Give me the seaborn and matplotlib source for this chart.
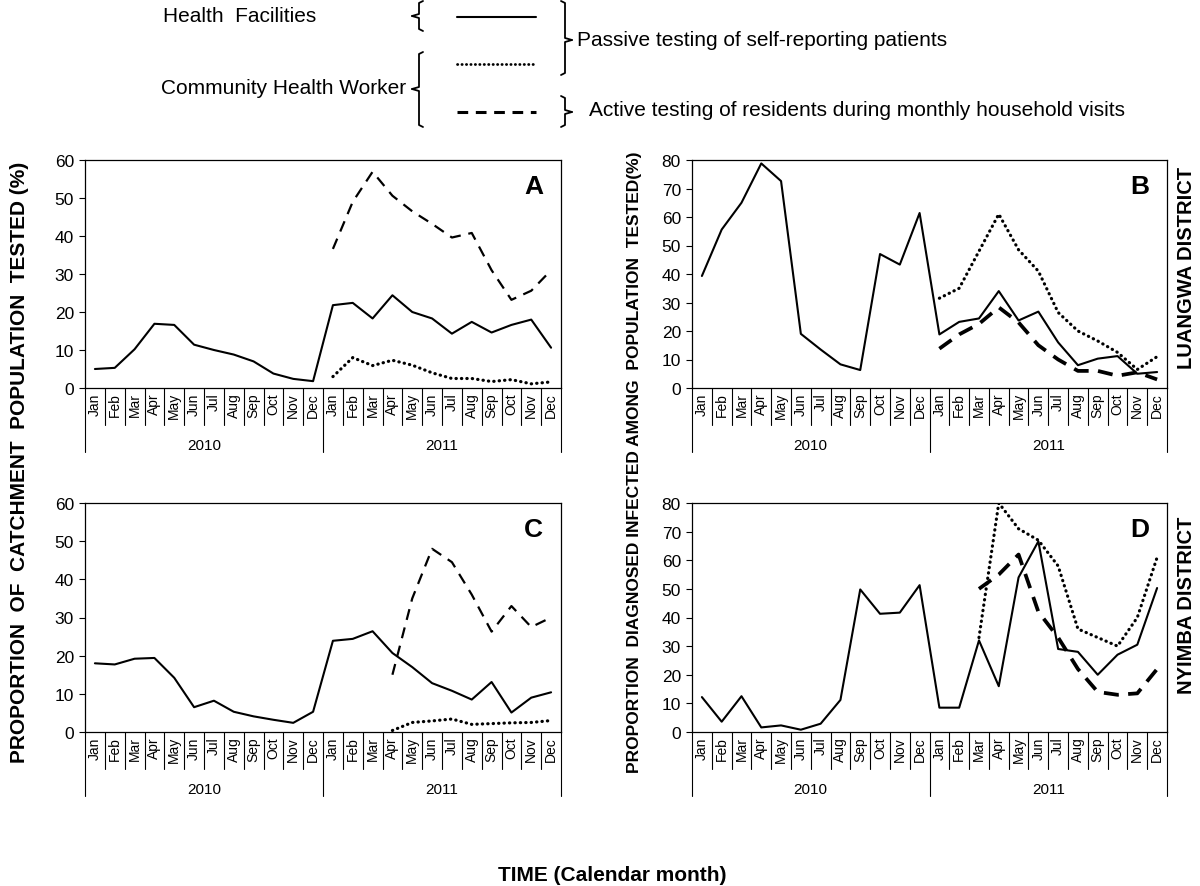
import numpy as np
import pandas as pd
import seaborn as sns
import matplotlib.pyplot as plt
from matplotlib.lines import Line2D

nan = np.nan

months = ['Jan', 'Feb', 'Mar', 'Apr', 'May', 'Jun',
          'Jul', 'Aug', 'Sep', 'Oct', 'Nov', 'Dec'] * 2
years = ['2010', '2011']

# panel A - Luangwa, proportion tested
a_hf = [5.0, 5.3, 10.2, 16.9, 16.6, 11.4, 10.0, 8.8, 7.0, 3.8, 2.4, 1.8,
        21.8, 22.4, 18.3, 24.4, 20.0, 18.3, 14.3, 17.4, 14.6, 16.6, 18.0, 10.6]
a_passive = [nan] * 12 + [3.0, 8.0, 5.9, 7.3, 6.0, 4.0, 2.5, 2.5, 1.7, 2.2, 1.1, 1.6]
a_active = [nan] * 12 + [36.6, 49.0, 56.9, 50.6, 46.5, 43.2, 39.6, 40.8, 31.0, 23.2, 25.6, 31.0]

# panel B - Luangwa, proportion infected
b_hf = [39.3, 55.6, 65.0, 78.8, 72.6, 19.0, 13.5, 8.3, 6.3, 47.0, 43.3, 61.4,
        18.8, 23.2, 24.4, 34.0, 23.7, 26.8, 16.0, 8.0, 10.3, 11.2, 5.0, 5.6]
b_passive = [nan] * 12 + [31.5, 35.0, 48.0, 61.0, 48.5, 41.0, 26.5, 20.0, 16.5, 12.5, 6.5, 11.0]
b_active = [nan] * 12 + [13.8, 18.8, 22.5, 28.3, 23.0, 15.0, 10.0, 6.0, 6.0, 4.3, 5.5, 3.0]

# panel C - Nyimba, proportion tested
c_hf = [18.0, 17.7, 19.2, 19.4, 14.2, 6.5, 8.2, 5.3, 4.1, 3.2, 2.4, 5.3,
        23.9, 24.4, 26.4, 20.7, 17.0, 12.8, 10.8, 8.5, 13.1, 5.1, 9.0, 10.4]
c_passive = [nan] * 15 + [0.4, 2.5, 2.9, 3.4, 2.0, 2.2, 2.4, 2.5, 3.0]
c_active = [nan] * 15 + [15.0, 35.0, 48.0, 44.5, 36.0, 26.3, 33.0, 27.5, 30.0]

# panel D - Nyimba, proportion infected
d_hf = [12.2, 3.6, 12.5, 1.6, 2.3, 0.8, 2.9, 11.2, 49.8, 41.3, 41.7, 51.3,
        8.5, 8.5, 32.0, 16.0, 54.0, 66.6, 29.0, 28.0, 20.0, 27.0, 30.5, 50.3]
d_passive = [nan] * 14 + [33.0, 80.0, 71.0, 67.0, 58.0, 36.0, 33.0, 30.0, 40.0, 61.0]
d_active = [nan] * 14 + [50.0, 55.0, 62.0, 42.0, 33.0, 22.0, 14.0, 13.0, 13.5, 22.0]

sns.set_theme(style='white')
plt.rcParams['font.family'] = ['Liberation Sans', 'DejaVu Sans']
for key in ['text.color', 'axes.labelcolor', 'xtick.color', 'ytick.color', 'axes.edgecolor']:
    plt.rcParams[key] = 'black'

W, H = 1200, 887
fig = plt.figure(figsize=(12, 8.87), dpi=100)


def px(x, y):
    return x / W, 1 - y / H


def make_panel(rect, hf, passive, active, ymax, letter, thick_dash):
    ax = fig.add_axes(rect)
    df = pd.DataFrame({'pos': np.arange(24), 'hf': hf,
                       'passive': passive, 'active': active})
    sns.lineplot(data=df, x='pos', y='hf', ax=ax, color='black', lw=1.5)
    sns.lineplot(data=df, x='pos', y='passive', ax=ax, color='black', lw=2.3,
                 linestyle=(0, (0.1, 1.6)), dash_capstyle='round')
    if thick_dash:
        sns.lineplot(data=df, x='pos', y='active', ax=ax, color='black', lw=2.7,
                     linestyle=(0, (4, 2.5)))
    else:
        sns.lineplot(data=df, x='pos', y='active', ax=ax, color='black', lw=1.6,
                     linestyle=(0, (5, 3.5)))
    ax.set_xlim(-0.5, 23.5)
    ax.set_ylim(0, ymax)
    ax.set_yticks(range(0, ymax + 1, 10))
    ax.set_xticks(range(24))
    ax.set_xticklabels(months, rotation=90, fontsize=10)
    ax.tick_params(axis='x', length=0, pad=3)
    ax.tick_params(axis='y', length=4, width=0.8, labelsize=12.5, direction='out',
                   left=True, pad=4)
    ax.set_xlabel('')
    ax.set_ylabel('')
    for s in ax.spines.values():
        s.set_color('black')
        s.set_linewidth(0.9)
    hpx = rect[3] * H
    for i in range(25):
        depth = 64 if i in (0, 12, 24) else 37
        ax.plot([i - 0.5, i - 0.5], [0, -depth / hpx], color='black', lw=0.8,
                transform=ax.get_xaxis_transform(), clip_on=False)
    for k, yr in enumerate(years):
        ax.text(5.5 + 12 * k, -57 / hpx, yr, transform=ax.get_xaxis_transform(),
                ha='center', va='center', fontsize=11)
    ax.text(0.942, 0.885, letter, transform=ax.transAxes, ha='center', va='center',
            fontsize=19, fontweight='bold')
    return ax


make_panel([85 / W, 1 - 389 / H, 476 / W, 228 / H], a_hf, a_passive, a_active, 60, 'A', False)
make_panel([692 / W, 1 - 389 / H, 475 / W, 228 / H], b_hf, b_passive, b_active, 80, 'B', True)
make_panel([85 / W, 1 - 733 / H, 476 / W, 229 / H], c_hf, c_passive, c_active, 60, 'C', False)
make_panel([692 / W, 1 - 733 / H, 475 / W, 229 / H], d_hf, d_passive, d_active, 80, 'D', True)

# axis titles
fig.text(*px(20, 462), 'PROPORTION  OF  CATCHMENT  POPULATION  TESTED (%)', rotation=90,
         ha='center', va='center', fontsize=15, fontweight='bold')
fig.text(*px(634, 462), 'PROPORTION  DIAGNOSED INFECTED AMONG  POPULATION  TESTED(%)',
         rotation=90, ha='center', va='center', fontsize=12.5, fontweight='bold')
fig.text(*px(1186, 268), 'LUANGWA DISTRICT', rotation=90, ha='center', va='center',
         fontsize=14.5, fontweight='bold')
fig.text(*px(1186, 605), 'NYIMBA DISTRICT', rotation=90, ha='center', va='center',
         fontsize=14.5, fontweight='bold')
fig.text(*px(612, 876), 'TIME (Calendar month)', ha='center', va='center',
         fontsize=15, fontweight='bold')


# legend drawn by hand
def fig_line(xs, ys, **kw):
    fx = [x / W for x in xs]
    fy = [1 - y / H for y in ys]
    fig.add_artist(Line2D(fx, fy, color='black', **kw))


def left_brace(x, y1, y2, ym):
    fig_line([x + 6, x + 2, x + 2, x - 5], [y1, y1 + 2, ym - 2, ym], lw=1.3)
    fig_line([x - 5, x + 2, x + 2, x + 6], [ym, ym + 2, y2 - 2, y2], lw=1.3)


def right_brace(x, y1, y2, ym):
    fig_line([x - 6, x - 2, x - 2, x + 5], [y1, y1 + 2, ym - 2, ym], lw=1.3)
    fig_line([x + 5, x - 2, x - 2, x - 6], [ym, ym + 2, y2 - 2, y2], lw=1.3)


fig_line([457, 536], [18, 18], lw=1.5)
fig_line([457, 533], [65, 65], lw=2.0, linestyle=(0, (0.1, 1.5)), dash_capstyle='round')
fig_line([457, 536], [113, 113], lw=2.2, linestyle=(0, (3.5, 2.5)))

left_brace(417, 2, 32, 17)
left_brace(417, 53, 128, 90)
right_brace(567, 2, 76, 41)
right_brace(567, 97, 128, 113)

fig.text(*px(163, 17), 'Health  Facilities', ha='left', va='center', fontsize=15)
fig.text(*px(406, 89), 'Community Health Worker', ha='right', va='center', fontsize=15)
fig.text(*px(577, 41), 'Passive testing of self-reporting patients', ha='left',
         va='center', fontsize=15)
fig.text(*px(589, 111), 'Active testing of residents during monthly household visits',
         ha='left', va='center', fontsize=15)

fig.savefig('out.png', dpi=100)
